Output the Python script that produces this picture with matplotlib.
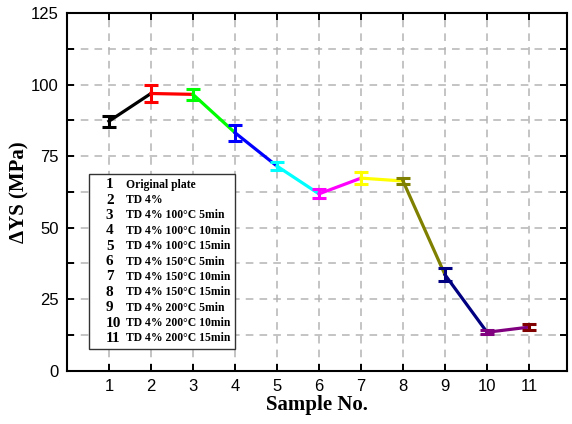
import matplotlib
matplotlib.use('Agg')
import matplotlib.pyplot as plt
from matplotlib.patches import Rectangle
from matplotlib.ticker import MultipleLocator

samples = [1, 2, 3, 4, 5, 6, 7, 8, 9, 10, 11]
delta_ys = [87.2, 96.9, 96.6, 83.2, 71.5, 61.8, 67.3, 66.3, 33.5, 13.4, 15.2]
errors = [2.0, 2.8, 2.0, 2.8, 1.3, 1.6, 2.0, 1.0, 2.2, 0.7, 1.0]
colors = ['black', 'red', '#00ff00', 'blue', 'cyan', 'magenta', 'yellow',
          '#808000', '#000080', '#800080', '#800000']
legend_labels = ['Original plate', 'TD 4%', 'TD 4% 100\u00b0C 5min',
                 'TD 4% 100\u00b0C 10min', 'TD 4% 100\u00b0C 15min',
                 'TD 4% 150\u00b0C 5min', 'TD 4% 150\u00b0C 10min',
                 'TD 4% 150\u00b0C 15min', 'TD 4% 200\u00b0C 5min',
                 'TD 4% 200\u00b0C 10min', 'TD 4% 200\u00b0C 15min']

serif = ['Liberation Serif', 'DejaVu Serif']
sans = ['Liberation Sans', 'DejaVu Sans']

fig = plt.figure(figsize=(5.72, 4.24), dpi=100)
ax = fig.add_axes([0.117, 0.126, 0.874, 0.843])

# segment i -> i+1 uses colour of point i
for i in range(len(samples) - 1):
    ax.plot(samples[i:i + 2], delta_ys[i:i + 2], '-', color=colors[i], lw=2.3,
            zorder=3)
for x, y, e, c in zip(samples, delta_ys, errors, colors):
    ax.errorbar(x, y, yerr=e, fmt='none', ecolor=c, elinewidth=2.2,
                capsize=5, capthick=2.2, zorder=4)

ax.set_xlim(0, 11.9)
ax.set_ylim(0, 125)
ax.set_xticks(samples)
ax.yaxis.set_major_locator(MultipleLocator(25))
ax.yaxis.set_minor_locator(MultipleLocator(12.5))
ax.grid(True, which='major', axis='x', ls=(0, (5, 4)), color='#b4b4b4', lw=1.1)
ax.grid(True, which='both', axis='y', ls=(0, (5, 4)), color='#b4b4b4', lw=1.1)
ax.set_axisbelow(True)

ax.tick_params(which='major', direction='in', length=5, width=1.4,
               top=True, right=True, labelsize=12, pad=6)
ax.tick_params(which='minor', direction='in', length=5, width=1.4,
               left=True, right=True)
for lab in ax.get_xticklabels() + ax.get_yticklabels():
    lab.set_family(sans)
for sp in ax.spines.values():
    sp.set_linewidth(1.5)

ax.set_xlabel('Sample No.', fontsize=15, fontweight='bold', family=serif,
              labelpad=1)
ax.set_ylabel('\u0394YS (MPa)', fontsize=15, fontweight='bold', family=serif,
              labelpad=1)

# legend box
x0, y0, w, h = 0.045, 0.06, 0.292, 0.49
ax.add_patch(Rectangle((x0, y0), w, h, transform=ax.transAxes,
                       facecolor='white', edgecolor='#333333', lw=1.0, zorder=5))
top = y0 + h - 0.03
step = (h - 0.06) / (len(legend_labels) - 1)
for k, lab in enumerate(legend_labels):
    yy = top - k * step
    ax.text(x0 + 0.033, yy, str(k + 1), transform=ax.transAxes, fontsize=11,
            fontweight='bold', family=serif, va='center', ha='left', zorder=6)
    ax.text(x0 + 0.074, yy, lab, transform=ax.transAxes, fontsize=8.4,
            fontweight='bold', family=serif, va='center', ha='left', zorder=6)

fig.savefig('out.png', dpi=100)
